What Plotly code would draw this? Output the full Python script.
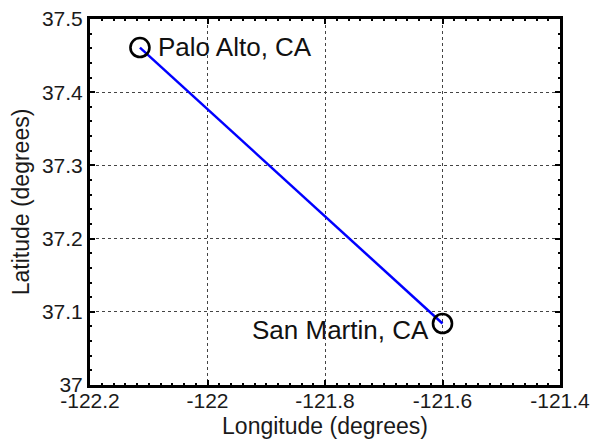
import plotly.graph_objects as go

city_names = ["Palo Alto, CA", "San Martin, CA"]
longitudes = [-122.115, -121.600]
latitudes = [37.461, 37.084]

x_ticks = [-122.2, -122.0, -121.8, -121.6, -121.4]
x_tick_labels = ["-122.2", "-122", "-121.8", "-121.6", "-121.4"]
y_ticks = [37.0, 37.1, 37.2, 37.3, 37.4, 37.5]
y_tick_labels = ["37", "37.1", "37.2", "37.3", "37.4", "37.5"]

font_family = "Liberation Sans, Arial, sans-serif"

fig = go.Figure()
fig.add_trace(go.Scatter(
    x=longitudes, y=latitudes, mode="lines",
    line=dict(color="#0000ff", width=2.5), showlegend=False, hoverinfo="skip"))
fig.add_trace(go.Scatter(
    x=longitudes, y=latitudes, mode="markers",
    marker=dict(symbol="circle-open", size=19, color="black", line=dict(width=2.6, color="black")),
    showlegend=False))

fig.add_annotation(x=longitudes[0], y=latitudes[0], text=city_names[0], showarrow=False,
                   xanchor="left", yanchor="middle", xshift=16, yshift=1,
                   font=dict(family=font_family, size=26, color="#111111"))
fig.add_annotation(x=longitudes[1], y=latitudes[1], text=city_names[1], showarrow=False,
                   xanchor="right", yanchor="middle", xshift=-12, yshift=-6,
                   font=dict(family=font_family, size=26, color="#111111"))

axis_common = dict(
    showline=True, linecolor="black", linewidth=3, mirror="allticks",
    ticks="inside", ticklen=5, tickwidth=2, tickcolor="black",
    showgrid=True, gridcolor="#444444", griddash="dot", gridwidth=1,
    zeroline=False, automargin=False, ticklabeloverflow="allow",
    tickfont=dict(family=font_family, size=21, color="#1a1a1a"),
)

fig.update_xaxes(range=[-122.2, -121.4], tickvals=x_ticks, ticktext=x_tick_labels,
                 ticklabelstandoff=-5,
                 title=dict(text="Longitude (degrees)", standoff=7,
                            font=dict(family=font_family, size=23, color="#1a1a1a")),
                 minor=dict(dtick=0.02, ticks="inside", ticklen=2, tickwidth=2, tickcolor="black", showgrid=False),
                 **axis_common)
fig.update_yaxes(range=[37.0, 37.5], tickvals=y_ticks, ticktext=y_tick_labels,
                 title=dict(text="Latitude (degrees)", standoff=6,
                            font=dict(family=font_family, size=23, color="#1a1a1a")),
                 minor=dict(dtick=0.02, ticks="inside", ticklen=2, tickwidth=2, tickcolor="black", showgrid=False),
                 **axis_common)

fig.update_layout(
    width=590, height=443,
    margin=dict(l=90, r=30, t=19, b=58),
    plot_bgcolor="white", paper_bgcolor="white",
)

fig.write_html("out.html", config={"displayModeBar": False},
               post_script="document.body.style.margin='0';document.body.style.overflow='hidden';")
